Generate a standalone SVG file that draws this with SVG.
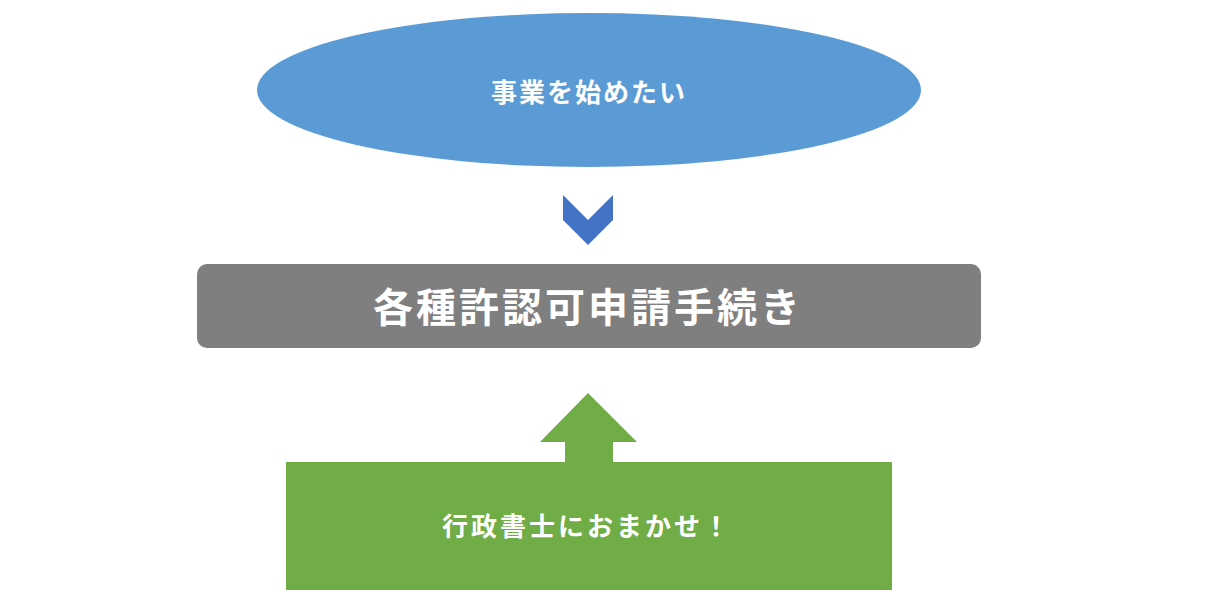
<svg xmlns="http://www.w3.org/2000/svg" width="1225" height="601" viewBox="0 0 1225 601">
<style>
text{font-family:"Noto Sans CJK JP","Noto Sans",sans-serif;fill:#fff;font-weight:bold;text-anchor:middle;dominant-baseline:central}
</style>
<rect width="1225" height="601" fill="#fff"/>
<g id="start"><ellipse cx="589" cy="90" rx="332" ry="77" fill="#5b9bd5"/><text x="589" y="90" font-size="26" letter-spacing="2">事業を始めたい</text></g>
<g id="connectors">
<polygon points="563,195 588,220 613,195 613,220 588,245 563,220" fill="#4472c4"/>
<polygon points="588,393 637,442 613,442 613,462 565,462 565,442 540,442" fill="#70ad47"/>
</g>
<g id="process"><rect x="197" y="264" width="784" height="84" rx="10" fill="#7f7f7f"/><text x="588" y="305" font-size="40" letter-spacing="3">各種許認可申請手続き</text></g>
<g id="expert"><rect x="286" y="462" width="606" height="128" fill="#70ad47"/><text x="587" y="524" font-size="26" letter-spacing="3">行政書士におまかせ！</text></g>
</svg>
